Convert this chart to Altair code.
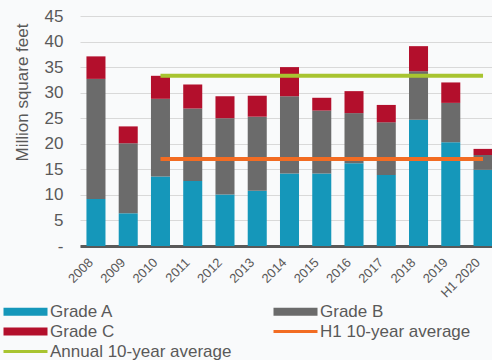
import altair as alt
import pandas as pd

years = ["2008", "2009", "2010", "2011", "2012", "2013", "2014", "2015",
         "2016", "2017", "2018", "2019", "H1 2020"]
grade_a = [9.2, 6.4, 13.6, 12.7, 10.1, 10.8, 14.2, 14.2, 16.2, 13.9, 24.7, 20.3, 14.9]
grade_b = [23.5, 13.7, 15.2, 14.2, 14.9, 14.5, 15.1, 12.3, 9.8, 10.3, 9.5, 7.7, 2.9]
grade_c = [4.4, 3.3, 4.5, 4.7, 4.3, 4.1, 5.7, 2.5, 4.3, 3.4, 4.9, 4.0, 1.2]

series = ["Grade A", "Grade B", "Grade C", "H1 10-year average", "Annual 10-year average"]
colors = ["#1597ba", "#6b6b6b", "#b30f2c", "#f26c23", "#a8c430"]

avg_names = ["H1 10-year average", "Annual 10-year average"]
avg_values = [17.0, 33.3]
avg_start = ["2010", "2010"]
avg_end = ["H1 2020", "H1 2020"]

y_ticks = [0, 5, 10, 15, 20, 25, 30, 35, 40, 45]

FONT = "Liberation Sans"
GREY = "#595959"

rows = []
for name, vals, o in [("Grade A", grade_a, 0), ("Grade B", grade_b, 1), ("Grade C", grade_c, 2)]:
    for y, v in zip(years, vals):
        rows.append({"year": y, "series": name, "value": v, "ord": o})
bars_df = pd.DataFrame(rows)

avg_df = pd.DataFrame({"series": avg_names, "value": avg_values,
                       "start": avg_start, "end": avg_end})

shape_expr = ("indexof(['H1 10-year average','Annual 10-year average'], datum.value) >= 0 "
              "? 'M-4.4,-0.3H4.4V0.3H-4.4Z' : 'M-4.4,-0.8H4.4V0.8H-4.4Z'")

legend = alt.Legend(
    title=None, orient="none", legendX=-63, legendY=287, columns=2,
    direction="horizontal",
    columnPadding=41, rowPadding=2, symbolSize=100, labelFontSize=17,
    labelColor=GREY, labelFont=FONT, labelOffset=16, labelLimit=300, padding=0,
    symbolType={"expr": shape_expr}, symbolStrokeWidth=0, symbolOpacity=1,
)

color = alt.Color("series:N", scale=alt.Scale(domain=series, range=colors), legend=legend)

xscale = alt.Scale(domain=years, range=[0, 419], paddingInner=0.41, paddingOuter=0.2)
yscale = alt.Scale(domain=[0, 45], nice=False)

y_axis = alt.Axis(values=y_ticks, title="Million square feet",
                  titleFontSize=17, titleFontWeight="normal", titleColor=GREY,
                  titleFont=FONT, titleX=-49, titleY=76,
                  labelFontSize=17, labelColor=GREY, labelFont=FONT,
                  labelPadding=17, ticks=False, domain=False,
                  labelOverlap=False, labelBound=False,
                  gridColor="#d9d9d9",
                  labelExpr="datum.value === 0 ? '-\u00a0\u00a0' : datum.label")

bars = alt.Chart(bars_df).mark_bar().encode(
    x=alt.X("year:N", scale=xscale, sort=years,
            axis=alt.Axis(title=None, labelAngle=-45, labelFontSize=13, labelColor=GREY,
                          labelFont=FONT, ticks=False, domainColor=GREY, domainWidth=3,
                          labelAlign="right", labelBaseline="bottom",
                          labelPadding=19, grid=False,
                          labelOverlap=False, labelBound=False)),
    y=alt.Y("value:Q", stack="zero", scale=yscale, axis=y_axis),
    color=color,
    order=alt.Order("ord:Q", sort="ascending"),
)

rules = alt.Chart(avg_df).mark_rule(strokeWidth=4).encode(
    x=alt.X("start:N", scale=xscale, bandPosition=0.5),
    x2=alt.X2("end:N", bandPosition=0.5),
    y=alt.Y("value:Q", scale=yscale, axis=y_axis),
    color=color,
)

chart = alt.layer(bars, rules).properties(
    width=412, height=230,
    autosize=alt.AutoSizeParams(type="none"),
    padding={"left": 80, "top": 16, "right": 0, "bottom": 114},
    background="#f9fafb",
).configure_view(stroke=None)

chart.save("out.html", embed_options={"renderer": "svg", "actions": False})
